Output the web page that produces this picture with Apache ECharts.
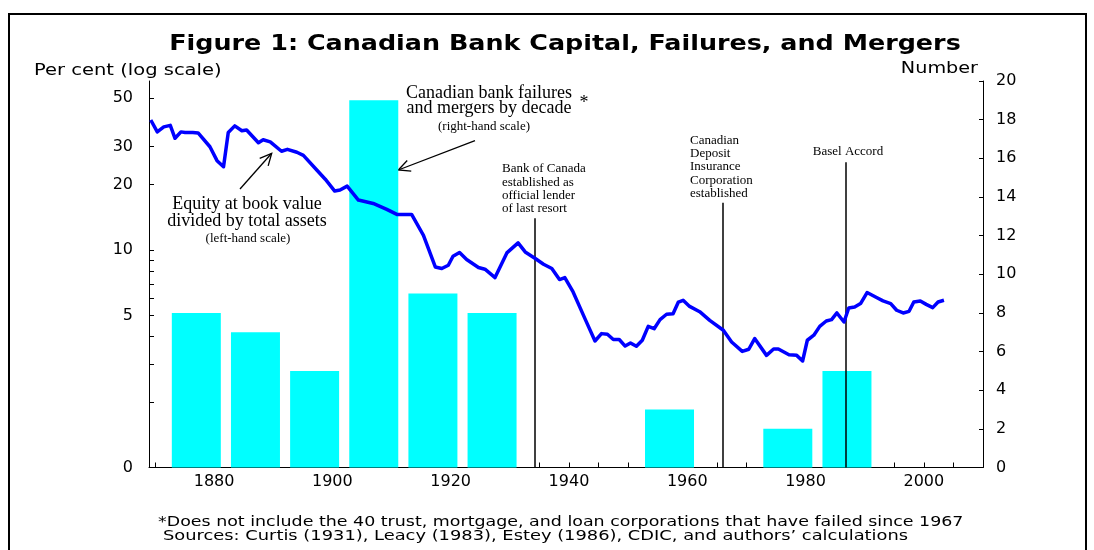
<!DOCTYPE html>
<html>
<head>
<meta charset="utf-8">
<script src="https://cdn.jsdelivr.net/npm/echarts@6.0.0/dist/echarts.min.js"></script>
<style>
  html, body { margin: 0; padding: 0; background: #fff; }
  #chart { width: 1094px; height: 550px; }
</style>
</head>
<body>
<div id="chart"></div>
<script>
// ---- Data ----
// Equity at book value divided by total assets (per cent, left log scale)
const lineYears = [
  1869.3, 1870.4, 1871.5, 1872.6, 1873.4, 1874.4, 1875.1, 1876.4, 1877.3, 1879.3,
  1880.5, 1881.6, 1882.4, 1883.5, 1884.7, 1885.5, 1887.5, 1888.3, 1889.5, 1891.4,
  1892.4, 1894.0, 1895.1, 1897.4, 1898.8, 1900.4, 1901.3, 1902.5, 1904.4, 1906.9,
  1909.2, 1910.9, 1913.4, 1915.4, 1917.4, 1918.5, 1919.6, 1920.4, 1921.5, 1922.7,
  1924.7, 1925.8, 1927.5, 1929.5, 1931.4, 1932.6, 1934.3, 1935.7, 1937.1, 1938.4,
  1939.3, 1940.7, 1942.7, 1944.4, 1945.5, 1946.5, 1947.5, 1948.5, 1949.5, 1950.4,
  1951.4, 1952.4, 1953.4, 1954.4, 1955.4, 1956.5, 1957.6, 1958.5, 1959.3, 1960.4,
  1962.1, 1963.8, 1966.1, 1967.5, 1969.3, 1970.4, 1971.4, 1973.4, 1974.6, 1975.4,
  1977.2, 1978.5, 1979.5, 1980.3, 1981.4, 1982.4, 1983.5, 1984.4, 1985.3, 1986.5,
  1987.3, 1988.3, 1989.3, 1990.4, 1992.0, 1993.1, 1994.4, 1995.4, 1996.5, 1997.5,
  1998.3, 1999.4, 2000.4, 2001.5, 2002.4, 2003.4
];
const lineValues = [
  39.7, 35.0, 36.9, 37.5, 32.7, 35.0, 34.8, 34.8, 34.6, 29.9,
  25.8, 24.2, 34.8, 37.3, 35.4, 35.7, 31.2, 32.2, 31.5, 28.5,
  29.1, 28.2, 27.3, 23.3, 21.2, 18.7, 18.9, 19.7, 17.0, 16.4,
  15.4, 14.6, 14.6, 11.7, 8.37, 8.23, 8.52, 9.37, 9.75, 9.05,
  8.32, 8.17, 7.48, 9.71, 10.8, 9.81, 9.15, 8.61, 8.23, 7.32,
  7.48, 6.42, 4.84, 3.82, 4.13, 4.10, 3.88, 3.88, 3.62, 3.74,
  3.61, 3.85, 4.46, 4.35, 4.79, 5.07, 5.10, 5.77, 5.88, 5.51,
  5.21, 4.75, 4.28, 3.78, 3.42, 3.50, 3.92, 3.28, 3.51, 3.51,
  3.30, 3.28, 3.09, 3.85, 4.06, 4.46, 4.72, 4.79, 5.14, 4.67,
  5.42, 5.48, 5.68, 6.38, 6.05, 5.84, 5.68, 5.29, 5.14, 5.23,
  5.77, 5.84, 5.63, 5.44, 5.77, 5.88
];
// Canadian bank failures and mergers by decade (number, right scale)
const barYears  = [1877, 1887, 1897, 1907, 1917, 1927, 1937, 1947, 1957, 1967, 1977, 1987, 1997];
const barValues = [8, 7, 5, 19, 9, 8, 0, 0, 3, 0, 2, 5, 0];
// Events marked with vertical lines
const eventYears  = [1934.3, 1966.0, 1986.8];
const eventLabels = [
  'Bank of Canada\nestablished as\nofficial lender\nof last resort',
  'Canadian\nDeposit\nInsurance\nCorporation\nestablished',
  'Basel Accord'
];
// Axis ticks and labels
const xTickYears  = [1870,1875,1880,1885,1890,1895,1900,1905,1910,1915,1920,1925,1930,1935,1940,1945,1950,1955,1960,1965,1970,1975,1980,1985,1990,1995,2000,2005];
const xLabelYears = [1880, 1900, 1920, 1940, 1960, 1980, 2000];
const leftTicks   = [1, 2, 3, 4, 5, 6, 7, 8, 9, 10, 20, 30, 50];
const leftLabels  = [1, 5, 10, 20, 30, 50];

// ---- Chart ----
const SANS = '"DejaVu Sans", sans-serif';
const SERIF = '"Liberation Serif", "DejaVu Serif", serif';
const chart = echarts.init(document.getElementById('chart'), null, { renderer: 'canvas' });

// Vertical event-line top ends (right-axis units; layout only)
const eventLineTops = [12.9, 13.7, 15.8];

function arrow(x1, y1, x2, y2) {
  const ang = Math.atan2(y1 - y2, x1 - x2);
  const L = 13, a = 0.45;
  return [
    { type: 'line', silent: true, shape: { x1, y1, x2, y2 }, style: { stroke: '#000', lineWidth: 1.3 } },
    { type: 'polyline', silent: true,
      shape: { points: [[x2 + L * Math.cos(ang + a), y2 + L * Math.sin(ang + a)], [x2, y2],
                        [x2 + L * Math.cos(ang - a), y2 + L * Math.sin(ang - a)]] },
      style: { stroke: '#000', fill: null, lineWidth: 1.3 } }
  ];
}
function txt(text, x, y, font, align, lineHeight, sx) {
  return { type: 'text', silent: true, z: 10, x: x, y: y, scaleX: sx || 1, scaleY: 1,
    style: { text, x: 0, y: 0, font, fill: '#000', textAlign: align || 'left', textVerticalAlign: 'middle', lineHeight: lineHeight } };
}

const option = {
  backgroundColor: '#fff',
  animation: false,
  grid: { left: 149, right: 111, top: 81, bottom: 82.5, containLabel: false },
  xAxis: {
    type: 'value', min: 1869, max: 2010,
    axisLine: { show: true, onZero: false, lineStyle: { color: '#000', width: 1 } },
    axisTick: { show: true, inside: true, length: 5, customValues: xTickYears, lineStyle: { color: '#000' } },
    axisLabel: { customValues: xLabelYears, color: '#000', fontFamily: SANS, fontSize: 16, margin: 6,
                 formatter: v => String(Math.round(v)) },
    splitLine: { show: false }
  },
  yAxis: [
    {
      type: 'log', logBase: 10, min: 1, max: 60, position: 'left',
      axisLine: { show: true, lineStyle: { color: '#000', width: 1 } },
      axisTick: { show: true, inside: true, length: 5, customValues: leftTicks, lineStyle: { color: '#000' } },
      axisLabel: { customValues: leftLabels, color: '#000', fontFamily: SANS, fontSize: 16, margin: 16,
                   formatter: v => (Math.abs(v - 1) < 1e-9 ? '0' : String(Math.round(v))) },
      splitLine: { show: false }
    },
    {
      type: 'value', min: 0, max: 20, interval: 2, position: 'right',
      axisLine: { show: true, lineStyle: { color: '#000', width: 1 } },
      axisTick: { show: true, inside: true, length: 4, lineStyle: { color: '#000' } },
      axisLabel: { color: '#000', fontFamily: SANS, fontSize: 16, margin: 13 },
      splitLine: { show: false }
    }
  ],
  series: [
    {
      type: 'bar', name: 'Failures and mergers', yAxisIndex: 1,
      data: barYears.map((y, i) => [y, barValues[i]]),
      barWidth: 49, itemStyle: { color: '#00ffff' }, silent: true,
      markLine: {
        silent: true, symbol: 'none', animation: false,
        label: { show: false },
        lineStyle: { color: '#000', width: 1.5, type: 'solid' },
        data: eventYears.map((y, i) => [{ coord: [y, 0] }, { coord: [y, eventLineTops[i]] }])
      }
    },
    {
      type: 'line', name: 'Equity / assets', yAxisIndex: 0,
      data: lineYears.map((y, i) => [y, lineValues[i]]),
      showSymbol: false, symbol: 'none', smooth: false,
      lineStyle: { color: '#0000ff', width: 3.5, join: 'round' }, z: 5, silent: true
    }
  ],
  graphic: [
    { type: 'rect', silent: true, z: 0, shape: { x: 9, y: 14, width: 1077, height: 600 },
      style: { fill: null, stroke: '#000', lineWidth: 2 } },
    txt('Figure 1: Canadian Bank Capital, Failures, and Mergers', 565, 45, 'bold 21px ' + SANS, 'center', null, 1.21),
    txt('Per cent (log scale)', 34, 71, '15px ' + SANS, 'left', null, 1.3),
    txt('Number', 978, 69, '15px ' + SANS, 'right', null, 1.28),
    txt('Canadian bank failures\nand mergers by decade', 489, 101, '18px ' + SERIF, 'center', 15),
    txt('*', 584, 103, '18px ' + SERIF, 'center'),
    txt('(right-hand scale)', 484, 127, '13px ' + SERIF, 'center'),
    txt('Equity at book value\ndivided by total assets', 247, 213, '18px ' + SERIF, 'center', 17),
    txt('(left-hand scale)', 248, 239, '13px ' + SERIF, 'center'),
    txt(eventLabels[0], 502, 189, '13px ' + SERIF, 'left', 13.3),
    txt(eventLabels[1], 690, 167, '13px ' + SERIF, 'left', 13.3),
    txt(eventLabels[2], 848, 152, '13px ' + SERIF, 'center'),
    ...arrow(240, 189, 271.7, 153.3),
    ...arrow(475, 140.7, 398.3, 170),
    txt('*Does not include the 40 trust, mortgage, and loan corporations that have failed since 1967', 158, 522, '14px ' + SANS, 'left', null, 1.245),
    txt('Sources: Curtis (1931), Leacy (1983), Estey (1986), CDIC, and authors\u2019 calculations', 163, 536, '14px ' + SANS, 'left', null, 1.275)
  ]
};
chart.setOption(option);
</script>
</body>
</html>
